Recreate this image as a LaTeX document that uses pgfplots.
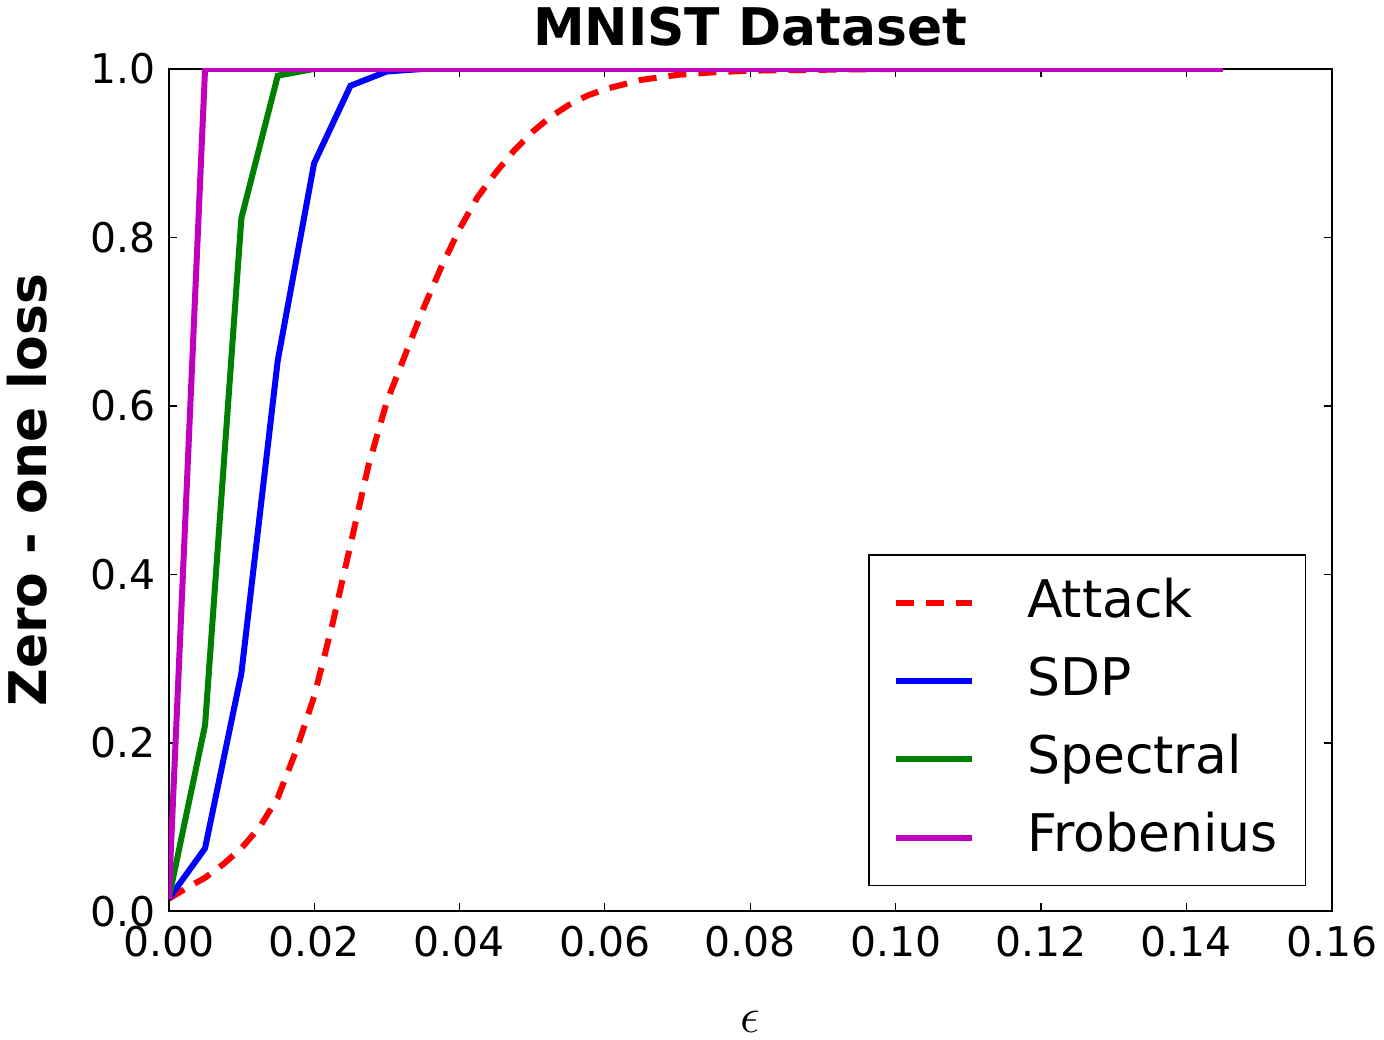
\documentclass[border=0pt]{standalone}
\usepackage{fontspec}
\setmainfont{DejaVu Sans}
\usepackage{pgfplots}
\pgfplotsset{compat=1.18}
\definecolor{mplgreen}{RGB}{0,128,0}
\definecolor{mplmag}{RGB}{191,0,191}
\begin{document}
\begin{tikzpicture}
\begin{axis}[
  scale only axis,
  width=580.5bp, height=420.5bp,
  xmin=0, xmax=0.16, ymin=0, ymax=1,
  xtick={0,0.02,...,0.16},
  ytick={0,0.2,...,1.0},
  tick align=inside,
  major tick length=4bp,
  every tick/.style={black, line width=0.6bp},
  axis line style={line width=1bp},
  /pgf/number format/assume math mode=true,
  xticklabel style={/pgf/number format/.cd, fixed, fixed zerofill, precision=2},
  yticklabel style={/pgf/number format/.cd, fixed, fixed zerofill, precision=1},
  scaled x ticks=false,
  ticklabel style={font=\fontsize{20.5}{22}\selectfont},
  xticklabel shift=4bp,
  yticklabel shift=3bp,
  title={\textbf{MNIST Dataset}},
  title style={font=\fontsize{26}{28}\selectfont, yshift=2bp},
  xlabel={$\epsilon$},
  xlabel style={font=\fontsize{26}{28}\selectfont, yshift=-20bp},
  ylabel={\textbf{Zero - one loss}},
  ylabel style={font=\fontsize{26}{28}\selectfont, yshift=15bp},
  legend style={draw=black, line width=0.8bp, fill=white,
    font=\fontsize{26}{28}\selectfont,
    at={(0.978,0.0297)}, anchor=south east,
    inner xsep=12bp, inner ysep=9bp,
    row sep=9bp,
    nodes={inner sep=2bp, text height=20bp, text depth=6bp},
    /tikz/every odd column/.append style={column sep=24bp}},
  legend cell align=left,
  legend image code/.code={\draw[#1] (0bp,0bp) -- (38bp,0bp);},
]
\addplot[red, line width=3bp, dash pattern=on 9bp off 6bp] coordinates {
(0,0.015) (0.0025,0.028) (0.005,0.04) (0.0075,0.056) (0.01,0.075)
(0.0125,0.10) (0.015,0.135) (0.0175,0.19) (0.02,0.255) (0.0225,0.34)
(0.025,0.435) (0.0275,0.53) (0.03,0.605) (0.0325,0.66) (0.035,0.715)
(0.0375,0.765) (0.04,0.81) (0.0425,0.848) (0.045,0.877) (0.0475,0.903)
(0.05,0.925) (0.0525,0.943) (0.055,0.957) (0.0575,0.968) (0.06,0.976)
(0.065,0.987) (0.07,0.993) (0.075,0.996) (0.08,0.998) (0.09,0.999)
(0.1,1.0) (0.145,1.0)
};
\addlegendentry{Attack}
\addplot[blue, line width=3bp] coordinates {
(0,0.015) (0.005,0.075) (0.01,0.283) (0.015,0.654) (0.02,0.888)
(0.025,0.98) (0.03,0.997) (0.035,1.0) (0.145,1.0)
};
\addlegendentry{SDP}
\addplot[mplgreen, line width=3bp] coordinates {
(0,0.015) (0.005,0.221) (0.01,0.823) (0.015,0.992) (0.02,1.0) (0.145,1.0)
};
\addlegendentry{Spectral}
\addplot[mplmag, line width=3bp] coordinates {
(0,0.015) (0.005,1.0) (0.145,1.0)
};
\addlegendentry{Frobenius}
\end{axis}
\end{tikzpicture}
\end{document}
